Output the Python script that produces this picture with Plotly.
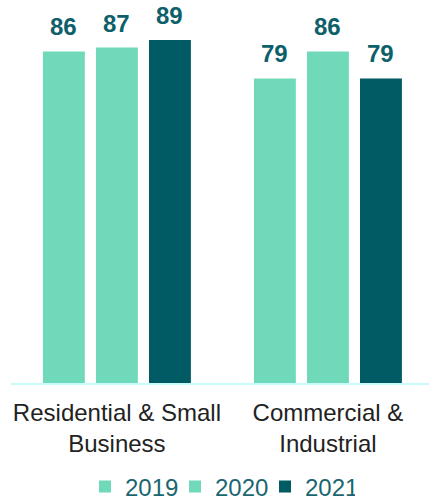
import plotly.graph_objects as go

categories = ["Residential & Small<br>Business", "Commercial &<br>Industrial"]
years = ["2019", "2020", "2021"]
values_2019 = [86, 79]
values_2020 = [87, 86]
values_2021 = [89, 79]
series = [values_2019, values_2020, values_2021]
colors = ["#70d9b9", "#70d9b9", "#005b65"]

fig = go.Figure()
for name, vals, col in zip(years, series, colors):
    fig.add_trace(go.Bar(
        name=name, x=categories, y=vals, marker=dict(color=col, line=dict(width=0)),
        hoverinfo="skip",
    ))

# value labels above bars
offsets = [-0.251, 0.0, 0.251]
for off, vals in zip(offsets, series):
    for i, v in enumerate(vals):
        fig.add_annotation(
            x=i + off, y=v, xref="x", yref="y", text=f"<b>{v}</b>",
            showarrow=False, yanchor="bottom", yshift=9,
            font=dict(family="Liberation Sans, Arial", size=24, color="#0d5f6a"),
        )

fig.update_layout(
    width=429, height=502,
    margin=dict(l=11, r=0, t=0, b=119, autoexpand=False),
    barmode="group", bargap=0.246, bargroupgap=0.21,
    plot_bgcolor="white", paper_bgcolor="white",
    font=dict(family="Liberation Sans, Arial", size=24, color="#222222"),
    showlegend=True,
    legend=dict(orientation="h", x=0.5, xanchor="center", y=-0.2715, yanchor="middle",
                font=dict(size=24, color="#1a6670"), itemwidth=30, traceorder="normal",
                entrywidth=45, entrywidthmode="pixels",
                tracegroupgap=0, itemclick=False),
    xaxis=dict(range=[-0.502, 1.479], showline=True, linecolor="#c8fafc", linewidth=2,
               ticks="outside", ticklen=7, tickcolor="rgba(0,0,0,0)", automargin=False,
               tickfont=dict(size=24, color="#222222"), showgrid=False),
    yaxis=dict(range=[0, 99.35], visible=False, showgrid=False, zeroline=False),
)

fig.write_html("out.html", config={"displayModeBar": False},
               post_script="document.body.style.margin='0';")
